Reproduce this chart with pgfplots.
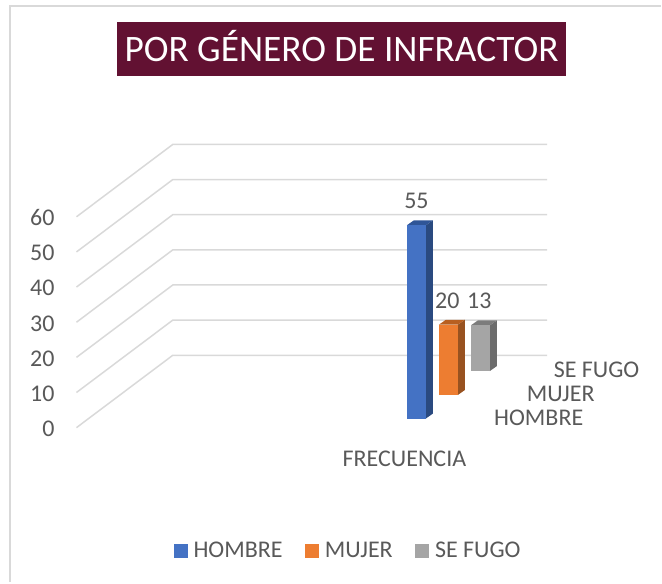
\documentclass[border=0pt]{standalone}
\usepackage{fontspec}
\setmainfont{Carlito}
\usepackage{pgfplots}
\pgfplotsset{compat=1.18}
\definecolor{gridc}{HTML}{D9D9D9}
\definecolor{txt}{HTML}{595959}
\definecolor{vino}{HTML}{621132}
\definecolor{bluef}{HTML}{4472C4}
\definecolor{blues}{HTML}{2A4A80}
\definecolor{bluet}{HTML}{2F5597}
\definecolor{orangef}{HTML}{ED7D31}
\definecolor{oranges}{HTML}{985220}
\definecolor{oranget}{HTML}{B85F20}
\definecolor{grayf}{HTML}{A5A5A5}
\definecolor{grays}{HTML}{6C6C6C}
\definecolor{grayt}{HTML}{7C7C7C}
\begin{document}
\begin{tikzpicture}[x=1pt,y=1pt]
\begin{axis}[
    scale only axis, width=662pt, height=583pt,
    xmin=0, xmax=662, ymin=-44.03, ymax=121.59, % 1 unit = 3.52 px
    clip=false,
    hide x axis,
    axis line style={draw=none},
    major tick length=0pt,
    ytick={0,10,20,30,40,50,60},
    yticklabel style={anchor=east, xshift=58pt, yshift=-1.5pt, text=txt, font=\fontsize{24}{24}\selectfont},
    /pgf/number format/assume math mode=true,
    legend style={draw=none, fill=none, at={(0.5265,0.0535)}, anchor=center,
        font=\fontsize{24}{24}\selectfont, text=txt, inner sep=0pt,
        /tikz/every even column/.append style={column sep=20.5pt}},
    legend columns=3,
    legend image code/.code={\fill[#1] (0pt,-7pt) rectangle (14pt,7pt); \path (18pt,0pt);},
    legend cell align=left,
]
% marco
\addplot[gridc, line width=2pt, forget plot] coordinates {(10,-44.03) (10,119.9) (662,119.9)};
% rejilla
\addplot[gridc, line width=1.5pt, forget plot] coordinates {(76.5,-0.1) (173,20.5) (548,20.5)};
\addplot[gridc, line width=1.5pt, forget plot] coordinates {(76.5,9.9) (173,30.5) (548,30.5)};
\addplot[gridc, line width=1.5pt, forget plot] coordinates {(76.5,19.9) (173,40.5) (548,40.5)};
\addplot[gridc, line width=1.5pt, forget plot] coordinates {(76.5,29.9) (173,50.5) (548,50.5)};
\addplot[gridc, line width=1.5pt, forget plot] coordinates {(76.5,39.9) (173,60.5) (548,60.5)};
\addplot[gridc, line width=1.5pt, forget plot] coordinates {(76.5,49.9) (173,70.5) (548,70.5)};
\addplot[gridc, line width=1.5pt, forget plot] coordinates {(76.5,59.9) (173,80.5) (548,80.5)};
% HOMBRE = 55
\addplot[fill=blues, draw=none, forget plot] coordinates {(426.5,2.5) (433.5,3.9) (433.5,58.9) (426.5,57.5)};
\addplot[fill=bluet, draw=none, forget plot] coordinates {(407.5,57.5) (426.5,57.5) (433.5,58.9) (414.5,58.9)};
\addplot[fill=bluef, draw=none] coordinates {(407.5,2.5) (426.5,2.5) (426.5,57.5) (407.5,57.5)};
% MUJER = 20
\addplot[fill=oranges, draw=none, forget plot] coordinates {(458.5,9.2) (465.5,10.6) (465.5,30.6) (458.5,29.2)};
\addplot[fill=oranget, draw=none, forget plot] coordinates {(439.5,29.2) (458.5,29.2) (465.5,30.6) (446.5,30.6)};
\addplot[fill=orangef, draw=none] coordinates {(439.5,9.2) (458.5,9.2) (458.5,29.2) (439.5,29.2)};
% SE FUGO = 13
\addplot[fill=grays, draw=none, forget plot] coordinates {(490.5,16) (497.5,17.4) (497.5,30.4) (490.5,29)};
\addplot[fill=grayt, draw=none, forget plot] coordinates {(471.5,29) (490.5,29) (497.5,30.4) (478.5,30.4)};
\addplot[fill=grayf, draw=none] coordinates {(471.5,16) (490.5,16) (490.5,29) (471.5,29)};
\legend{HOMBRE,MUJER,SE FUGO}
% textos
\node[fill=vino, text=white, minimum width=450pt, minimum height=54pt, inner sep=0pt,
      text height=26pt, text depth=0pt,
      font=\fontsize{37.4}{37.4}\selectfont] at (axis cs:342,107.7) {POR GÉNERO DE INFRACTOR};
\begin{scope}[every node/.style={text=txt, inner sep=0pt, font=\fontsize{24}{24}\selectfont}]
\node at (axis cs:417,64.5) {55};
\node at (axis cs:448,36.1) {20};
\node at (axis cs:480,36.1) {13};
\node at (axis cs:405,-9.1) {FRECUENCIA};
\node at (axis cs:539.5,2.8) {HOMBRE};
\node at (axis cs:561.5,9.6) {MUJER};
\node at (axis cs:597.5,16.5) {SE FUGO};
\end{scope}
\end{axis}
\end{tikzpicture}
\end{document}
